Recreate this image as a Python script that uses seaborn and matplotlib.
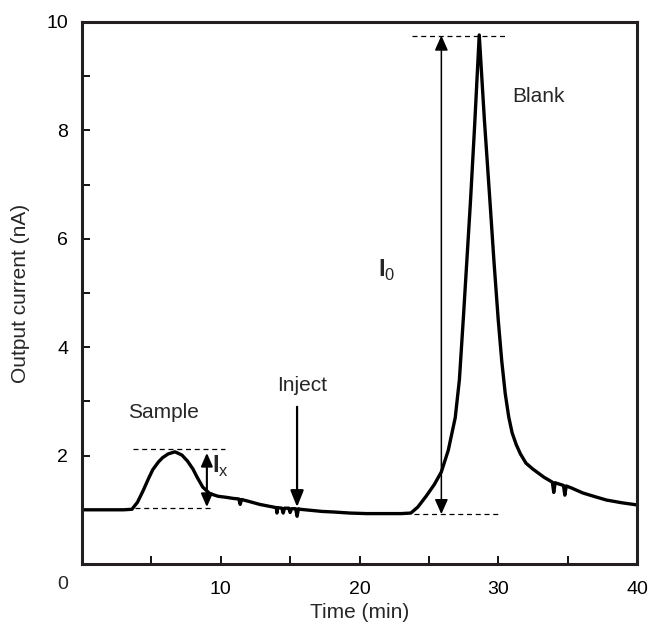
import numpy as np
import pandas as pd
import matplotlib
matplotlib.use('Agg')
import matplotlib.pyplot as plt
import seaborn as sns

# trace (time in min, current in nA)
time_min = [0, 1, 2, 3, 3.6, 4.0, 4.4, 4.8, 5.1, 5.5, 5.8, 6.2, 6.7, 7.2, 7.6, 8.0,
            8.3, 8.7, 9.2, 9.8, 10.4, 10.9, 11.3, 11.4, 11.5, 12.1, 12.8, 13.4, 13.8,
            14.0, 14.05, 14.1, 14.4, 14.5, 14.6, 14.9, 15.0, 15.1, 15.4, 15.5, 15.6,
            15.7, 16.5, 17.3, 18.1, 19.3, 20.5, 22.0, 23.0, 23.7, 24.2, 24.8, 25.4,
            25.9, 26.4, 26.9, 27.2, 27.5, 28.0, 28.3, 28.63, 29.0, 29.4, 29.7, 30.0,
            30.25, 30.5, 30.75, 31.0, 31.3, 31.6, 32.0, 32.5, 33.3, 33.9, 34.0, 34.1,
            34.2, 34.7, 34.8, 34.9, 35.3, 36.1, 37.0, 37.8, 38.9, 40]
current_na = [1.0, 1.0, 1.0, 1.0, 1.01, 1.14, 1.35, 1.58, 1.74, 1.88, 1.96, 2.03, 2.07,
              2.01, 1.9, 1.75, 1.6, 1.42, 1.3, 1.25, 1.23, 1.21, 1.2, 1.1, 1.19, 1.15,
              1.1, 1.07, 1.05, 1.04, 0.94, 1.04, 1.03, 0.94, 1.03, 1.03, 0.95, 1.02, 1.02,
              0.88, 1.02, 1.01, 0.99, 0.97, 0.96, 0.94, 0.93, 0.93, 0.93, 0.94, 1.05,
              1.25, 1.47, 1.70, 2.1, 2.7, 3.4, 4.6, 6.7, 8.1, 9.76, 8.2, 6.7, 5.55, 4.5,
              3.75, 3.15, 2.72, 2.42, 2.2, 2.03, 1.86, 1.75, 1.6, 1.51, 1.32, 1.5, 1.49,
              1.45, 1.27, 1.44, 1.4, 1.31, 1.24, 1.18, 1.13, 1.09]

# peak height markers
sample_top, sample_base = 2.12, 1.03
blank_top, blank_base = 9.75, 0.92

df = pd.DataFrame({'t': time_min, 'i': current_na})

sns.set_style('ticks')
plt.rcParams['font.family'] = ['Liberation Sans', 'DejaVu Sans']
plt.rcParams['mathtext.fontset'] = 'custom'
plt.rcParams['mathtext.rm'] = 'Liberation Sans'
plt.rcParams['mathtext.bf'] = 'Liberation Sans:bold'

fig = plt.figure(figsize=(6.5, 6.32), dpi=100)
ax = fig.add_axes([82/650, 68/632, 555/650, 542/632])

sns.lineplot(data=df, x='t', y='i', color='black', linewidth=2.4, ax=ax)

dash = dict(color='black', lw=0.9, ls=(0, (4, 3)))
ax.plot([3.7, 10.3], [sample_top, sample_top], **dash)
ax.plot([3.8, 9.4], [sample_base, sample_base], **dash)
ax.plot([23.8, 30.5], [blank_top, blank_top], **dash)
ax.plot([23.9, 30.2], [blank_base, blank_base], **dash)

ax.annotate('', xy=(25.9, blank_top), xytext=(25.9, blank_base),
            arrowprops=dict(arrowstyle='<|-|>,head_length=0.9,head_width=0.4',
                            color='black', lw=1.1, shrinkA=0, shrinkB=0))
ax.annotate('', xy=(9.0, sample_top - 0.07), xytext=(9.0, sample_base + 0.02),
            arrowprops=dict(arrowstyle='<|-|>,head_length=0.8,head_width=0.35',
                            color='black', lw=1.5, shrinkA=0, shrinkB=0))
ax.annotate('', xy=(15.5, 1.05), xytext=(15.5, 2.9),
            arrowprops=dict(arrowstyle='-|>,head_length=1.0,head_width=0.4',
                            color='black', lw=1.6, shrinkA=0, shrinkB=0))

ax.text(5.85, 2.8, 'Sample', fontsize=15, ha='center', va='center')
ax.text(15.85, 3.3, 'Inject', fontsize=15, ha='center', va='center')
ax.text(31.0, 8.62, 'Blank', fontsize=15, ha='left', va='center')
ax.text(9.35, 1.8, r'$\mathbf{I}_{\mathrm{x}}$', fontsize=17, ha='left', va='center')
ax.text(21.3, 5.42, r'$\mathbf{I}_{0}$', fontsize=17, ha='left', va='center')

ax.set_xlim(0, 40)
ax.set_ylim(0, 10)
ax.set_xticks(np.arange(0, 41, 5))
ax.set_xticklabels(['', '', '10', '', '20', '', '30', '', '40'])
ax.set_yticks(np.arange(0, 11, 1))
ax.set_yticklabels(['', '', '2', '', '4', '', '6', '', '8', '', '10'])
ax.tick_params(direction='in', length=6, width=1.3, labelsize=14, colors='black')
ax.tick_params(axis='x', pad=12)
ax.tick_params(axis='y', pad=10)
ax.annotate('0', xy=(0, 0), xycoords='axes fraction', xytext=(-14, -15),
            textcoords='offset points', ha='center', va='center', fontsize=14)

for s in ax.spines.values():
    s.set_linewidth(2.2)
    s.set_color('#231f20')

ax.set_xlabel('Time (min)', fontsize=15, labelpad=4)
ax.set_ylabel('Output current (nA)', fontsize=15, labelpad=12)

fig.savefig('out.png', dpi=100)
